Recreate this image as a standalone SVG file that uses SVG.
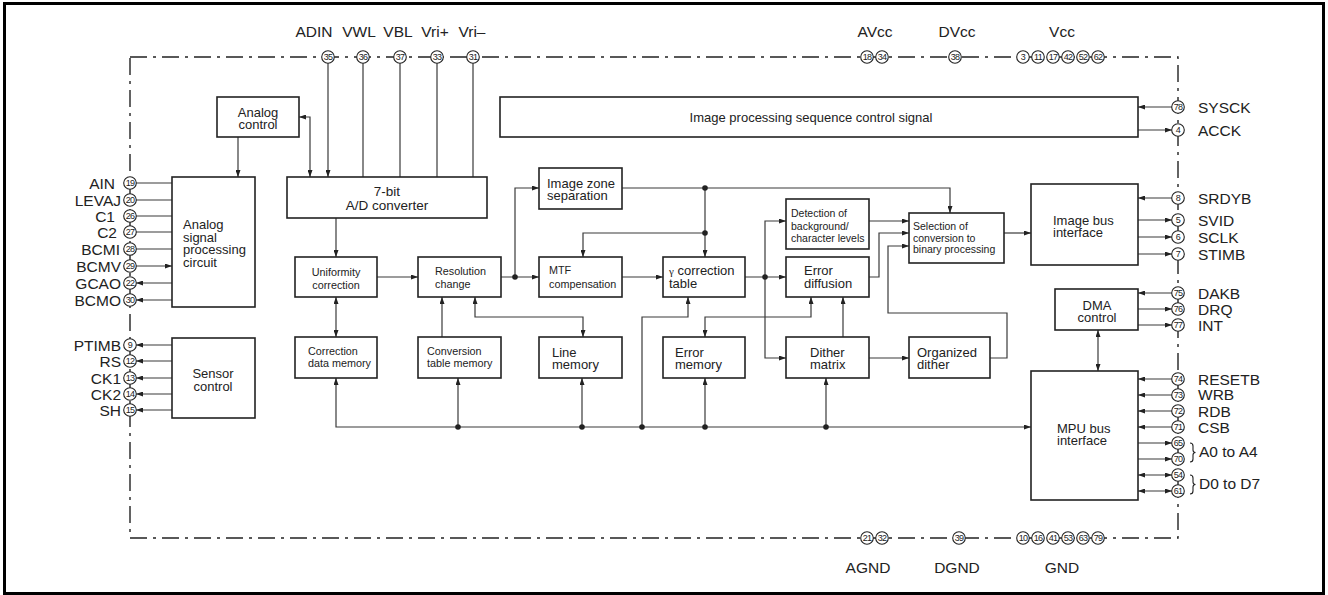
<svg xmlns="http://www.w3.org/2000/svg" width="1328" height="595" viewBox="0 0 1328 595">
<style>
text{font-family:"Liberation Sans",Arial,sans-serif;fill:#222}
.box{fill:#fff;stroke:#222;stroke-width:1.6}
.ln{fill:none;stroke:#3a3a3a;stroke-width:1.2}
.pin{fill:#fff;stroke:#222;stroke-width:1.1}
.pn{font-size:9px;text-anchor:middle;letter-spacing:-0.7px}
.lbl{font-size:15.5px}
.lt{font-size:15.5px;text-anchor:end}
.mid{text-anchor:middle}
.f13{font-size:13px}
.f11{font-size:10.8px}
.dot{fill:#222}
</style>
<defs>
<marker id="ah" viewBox="0 0 7 5" refX="7" refY="2.5" markerWidth="7" markerHeight="5" markerUnits="userSpaceOnUse" orient="auto-start-reverse"><path d="M0,0 L7,2.5 L0,5 z" fill="#222"/></marker>
</defs>
<rect x="4.5" y="3.5" width="1319" height="590" fill="#fff" stroke="#000" stroke-width="3"/>
<rect id="chip" x="130" y="57" width="1048" height="481" fill="none" stroke="#222" stroke-width="1.4" stroke-dasharray="17 6 3 6"/>

<g id="connectors">
<path class="ln" marker-end="url(#ah)" d="M136,183H172M136,200H172M136,216H172M136,232H172M136,249H172M136,266H172"/>
<path class="ln" marker-end="url(#ah)" d="M172,283H136"/>
<path class="ln" marker-end="url(#ah)" d="M172,300H136"/>
<path class="ln" marker-end="url(#ah)" d="M172,345H136"/>
<path class="ln" marker-end="url(#ah)" d="M172,361H136"/>
<path class="ln" marker-end="url(#ah)" d="M172,378H136"/>
<path class="ln" marker-end="url(#ah)" d="M172,394H136"/>
<path class="ln" marker-end="url(#ah)" d="M172,410H136"/>
<path class="ln" marker-end="url(#ah)" d="M328,63V177"/>
<path class="ln" d="M363,63V177M400,63V177M437,63V177M473,63V177"/>
<path class="ln" marker-start="url(#ah)" marker-end="url(#ah)" d="M299,117H310V177"/>
<path class="ln" marker-end="url(#ah)" d="M238,137V177"/>
<path class="ln" marker-end="url(#ah)" d="M1172,107H1138"/>
<path class="ln" marker-end="url(#ah)" d="M1138,130H1172"/>
<path class="ln" marker-end="url(#ah)" d="M1172,198H1138"/>
<path class="ln" marker-end="url(#ah)" d="M1138,220H1172"/>
<path class="ln" marker-end="url(#ah)" d="M1138,237H1172"/>
<path class="ln" marker-end="url(#ah)" d="M1138,254H1172"/>
<path class="ln" marker-end="url(#ah)" d="M1172,293H1138"/>
<path class="ln" marker-end="url(#ah)" d="M1138,309H1172"/>
<path class="ln" marker-end="url(#ah)" d="M1138,325H1172"/>
<path class="ln" marker-start="url(#ah)" marker-end="url(#ah)" d="M1098,330V371"/>
<path class="ln" marker-end="url(#ah)" d="M1172,379H1138"/>
<path class="ln" marker-end="url(#ah)" d="M1172,395H1138"/>
<path class="ln" marker-end="url(#ah)" d="M1172,411H1138"/>
<path class="ln" marker-end="url(#ah)" d="M1172,427H1138"/>
<path class="ln" marker-end="url(#ah)" d="M1138,443H1172"/>
<path class="ln" marker-end="url(#ah)" d="M1138,459H1172"/>
<path class="ln" marker-start="url(#ah)" marker-end="url(#ah)" d="M1138,475H1172"/>
<path class="ln" marker-start="url(#ah)" marker-end="url(#ah)" d="M1138,491H1172"/>
<path class="ln" marker-end="url(#ah)" d="M336,218V257"/>
<path class="ln" marker-end="url(#ah)" d="M377,277H418"/>
<path class="ln" marker-end="url(#ah)" d="M501,277H539"/>
<path class="ln" marker-end="url(#ah)" d="M515,277V188H539"/>
<path class="ln" marker-end="url(#ah)" d="M622,277H663"/>
<path class="ln" marker-end="url(#ah)" d="M622,188H950V213"/>
<path class="ln" marker-end="url(#ah)" d="M705,188V257"/>
<path class="ln" marker-end="url(#ah)" d="M705,233H583V257"/>
<path class="ln" marker-end="url(#ah)" d="M745,277H786"/>
<path class="ln" marker-end="url(#ah)" d="M765,277V221H786"/>
<path class="ln" marker-end="url(#ah)" d="M765,277V358H786"/>
<path class="ln" marker-end="url(#ah)" d="M869,221H909"/>
<path class="ln" marker-end="url(#ah)" d="M869,277H879V233H909"/>
<path class="ln" marker-end="url(#ah)" d="M990,358H1007V313H888V246H909"/>
<path class="ln" marker-end="url(#ah)" d="M869,358H909"/>
<path class="ln" marker-end="url(#ah)" d="M843,337V297"/>
<path class="ln" marker-start="url(#ah)" marker-end="url(#ah)" d="M811,297V317H705V337"/>
<path class="ln" marker-end="url(#ah)" d="M642,427V317H688V297"/>
<path class="ln" marker-start="url(#ah)" marker-end="url(#ah)" d="M475,297V317H583V337"/>
<path class="ln" marker-end="url(#ah)" d="M442,337V297"/>
<path class="ln" marker-start="url(#ah)" marker-end="url(#ah)" d="M336,297V337"/>
<path class="ln" marker-end="url(#ah)" d="M1004,233H1031"/>
<path class="ln" marker-start="url(#ah)" marker-end="url(#ah)" d="M336,378V427H1031"/>
<path class="ln" marker-end="url(#ah)" d="M458,427V378"/>
<path class="ln" marker-end="url(#ah)" d="M582,427V378"/>
<path class="ln" marker-end="url(#ah)" d="M705,427V378"/>
<path class="ln" marker-end="url(#ah)" d="M826,427V378"/>
<circle class="dot" cx="515" cy="277" r="2.8"/>
<circle class="dot" cx="705" cy="188" r="2.8"/>
<circle class="dot" cx="705" cy="233" r="2.8"/>
<circle class="dot" cx="765" cy="277" r="2.8"/>
<circle class="dot" cx="458" cy="427" r="2.8"/>
<circle class="dot" cx="582" cy="427" r="2.8"/>
<circle class="dot" cx="642" cy="427" r="2.8"/>
<circle class="dot" cx="705" cy="427" r="2.8"/>
<circle class="dot" cx="826" cy="427" r="2.8"/>
<path fill="none" stroke="#222" stroke-width="1.1" d="M1190,443q3,0 3,3v4q0,2.5 2.5,2.5q-2.5,0 -2.5,2.5v4q0,3 -3,3M1190,475q3,0 3,3v4q0,2.5 2.5,2.5q-2.5,0 -2.5,2.5v4q0,3 -3,3"/>
</g>

<g id="analog-control"><rect class="box" x="217" y="97" width="82" height="40"/><text class="f13 mid" x="258" y="117">Analog</text><text class="f13 mid" x="258" y="129">control</text></g>
<g id="analog-signal"><rect class="box" x="172" y="177" width="83" height="130"/><text class="f13" x="183" y="229">Analog</text><text class="f13" x="183" y="241.5">signal</text><text class="f13" x="183" y="254">processing</text><text class="f13" x="183" y="266.5">circuit</text></g>
<g id="sensor-control"><rect class="box" x="172" y="338" width="83" height="80"/><text class="f13 mid" x="213" y="378">Sensor</text><text class="f13 mid" x="213" y="391">control</text></g>
<g id="adc"><rect class="box" x="287" y="177" width="200" height="41"/><text class="mid" style="font-size:13.5px" x="387" y="196">7-bit</text><text class="mid" style="font-size:13.5px" x="387" y="210">A/D converter</text></g>
<g id="ipscs"><rect class="box" x="500" y="97" width="638" height="40"/><text class="f13 mid" x="811" y="122">Image processing sequence control signal</text></g>
<g id="uniformity"><rect class="box" x="295" y="257" width="82" height="40"/><text class="f11 mid" x="336" y="276">Uniformity</text><text class="f11 mid" x="336" y="289">correction</text></g>
<g id="resolution"><rect class="box" x="418" y="257" width="83" height="40"/><text class="f11" x="435" y="275">Resolution</text><text class="f11" x="435" y="288">change</text></g>
<g id="izs"><rect class="box" x="539" y="168" width="83" height="41"/><text class="f13" x="547" y="188">Image zone</text><text class="f13" x="547" y="199.5">separation</text></g>
<g id="mtf"><rect class="box" x="539" y="257" width="83" height="40"/><text class="f11" x="549" y="274">MTF</text><text class="f11" x="549" y="288">compensation</text></g>
<g id="cdm"><rect class="box" x="295" y="337" width="82" height="41"/><text class="f11" x="308" y="355">Correction</text><text class="f11" x="308" y="367">data memory</text></g>
<g id="ctm"><rect class="box" x="418" y="337" width="83" height="41"/><text class="f11" x="427" y="355">Conversion</text><text class="f11" x="427" y="367">table memory</text></g>
<g id="line-memory"><rect class="box" x="539" y="337" width="83" height="41"/><text class="f13" x="552" y="356.5">Line</text><text class="f13" x="552" y="369">memory</text></g>
<g id="gamma"><rect class="box" x="663" y="257" width="82" height="40"/><text class="f13" x="669" y="275"><tspan style="font-family:'Liberation Serif',serif;font-size:11px">γ</tspan> correction</text><text class="f13" x="669" y="288">table</text></g>
<g id="error-memory"><rect class="box" x="663" y="337" width="82" height="41"/><text class="f13" x="675" y="356.5">Error</text><text class="f13" x="675" y="369">memory</text></g>
<g id="detection"><rect class="box" x="786" y="199" width="83" height="50"/><text style="font-size:10.5px" x="791" y="217">Detection of</text><text style="font-size:10.5px" x="791" y="229.5">background/</text><text style="font-size:10.5px" x="791" y="242">character levels</text></g>
<g id="error-diffusion"><rect class="box" x="786" y="257" width="83" height="40"/><text class="f13" x="804" y="275">Error</text><text class="f13" x="804" y="288">diffusion</text></g>
<g id="dither-matrix"><rect class="box" x="786" y="337" width="83" height="41"/><text class="f13" x="810" y="356.5">Dither</text><text class="f13" x="810" y="369">matrix</text></g>
<g id="selection"><rect class="box" x="909" y="213" width="95" height="50"/><text style="font-size:10.5px" x="913" y="230">Selection of</text><text style="font-size:10.5px" x="913" y="241.5">conversion to</text><text style="font-size:10.5px" x="913" y="253">binary processing</text></g>
<g id="organized-dither"><rect class="box" x="909" y="337" width="81" height="41"/><text class="f13" x="917" y="356.5">Organized</text><text class="f13" x="917" y="369">dither</text></g>
<g id="image-bus"><rect class="box" x="1031" y="184" width="107" height="81"/><text class="f13" x="1053" y="225">Image bus</text><text class="f13" x="1053" y="237">interface</text></g>
<g id="dma"><rect class="box" x="1055" y="289" width="83" height="41"/><text class="f13 mid" x="1097" y="310">DMA</text><text class="f13 mid" x="1097" y="322">control</text></g>
<g id="mpu-bus"><rect class="box" x="1031" y="371" width="107" height="129"/><text class="f13" x="1057" y="433">MPU bus</text><text class="f13" x="1057" y="445">interface</text></g>

<g id="pins">
<g class="pin">
<circle cx="328" cy="57" r="6.3"/><circle cx="363" cy="57" r="6.3"/><circle cx="400" cy="57" r="6.3"/><circle cx="437" cy="57" r="6.3"/><circle cx="473" cy="57" r="6.3"/>
<circle cx="867" cy="57" r="6.3"/><circle cx="882" cy="57" r="6.3"/><circle cx="955" cy="57" r="6.3"/>
<circle cx="1023" cy="57" r="6.3"/><circle cx="1038" cy="57" r="6.3"/><circle cx="1053" cy="57" r="6.3"/><circle cx="1068" cy="57" r="6.3"/><circle cx="1083" cy="57" r="6.3"/><circle cx="1098" cy="57" r="6.3"/>
<circle cx="867" cy="538" r="6.3"/><circle cx="882" cy="538" r="6.3"/><circle cx="959" cy="538" r="6.3"/>
<circle cx="1023" cy="538" r="6.3"/><circle cx="1038" cy="538" r="6.3"/><circle cx="1053" cy="538" r="6.3"/><circle cx="1068" cy="538" r="6.3"/><circle cx="1083" cy="538" r="6.3"/><circle cx="1098" cy="538" r="6.3"/>
<circle cx="130" cy="183" r="6.3"/><circle cx="130" cy="200" r="6.3"/><circle cx="130" cy="216" r="6.3"/><circle cx="130" cy="232" r="6.3"/><circle cx="130" cy="249" r="6.3"/><circle cx="130" cy="266" r="6.3"/><circle cx="130" cy="283" r="6.3"/><circle cx="130" cy="300" r="6.3"/>
<circle cx="130" cy="345" r="6.3"/><circle cx="130" cy="361" r="6.3"/><circle cx="130" cy="378" r="6.3"/><circle cx="130" cy="394" r="6.3"/><circle cx="130" cy="410" r="6.3"/>
<circle cx="1178" cy="107" r="6.3"/><circle cx="1178" cy="130" r="6.3"/><circle cx="1178" cy="198" r="6.3"/><circle cx="1178" cy="220" r="6.3"/><circle cx="1178" cy="237" r="6.3"/><circle cx="1178" cy="254" r="6.3"/>
<circle cx="1178" cy="293" r="6.3"/><circle cx="1178" cy="309" r="6.3"/><circle cx="1178" cy="325" r="6.3"/>
<circle cx="1178" cy="379" r="6.3"/><circle cx="1178" cy="395" r="6.3"/><circle cx="1178" cy="411" r="6.3"/><circle cx="1178" cy="427" r="6.3"/><circle cx="1178" cy="443" r="6.3"/><circle cx="1178" cy="459" r="6.3"/><circle cx="1178" cy="475" r="6.3"/><circle cx="1178" cy="491" r="6.3"/>
</g>
<g>
<text class="pn" x="328" y="60.2">35</text><text class="pn" x="363" y="60.2">36</text><text class="pn" x="400" y="60.2">37</text><text class="pn" x="437" y="60.2">33</text><text class="pn" x="473" y="60.2">31</text>
<text class="pn" x="867" y="60.2">18</text><text class="pn" x="882" y="60.2">34</text><text class="pn" x="955" y="60.2">38</text>
<text class="pn" x="1023" y="60.2">3</text><text class="pn" x="1038" y="60.2">11</text><text class="pn" x="1053" y="60.2">17</text><text class="pn" x="1068" y="60.2">42</text><text class="pn" x="1083" y="60.2">52</text><text class="pn" x="1098" y="60.2">62</text>
<text class="pn" x="867" y="541.2">21</text><text class="pn" x="882" y="541.2">32</text><text class="pn" x="959" y="541.2">39</text>
<text class="pn" x="1023" y="541.2">10</text><text class="pn" x="1038" y="541.2">16</text><text class="pn" x="1053" y="541.2">41</text><text class="pn" x="1068" y="541.2">53</text><text class="pn" x="1083" y="541.2">63</text><text class="pn" x="1098" y="541.2">79</text>
<text class="pn" x="130" y="186.2">19</text><text class="pn" x="130" y="203.2">20</text><text class="pn" x="130" y="219.2">26</text><text class="pn" x="130" y="235.2">27</text><text class="pn" x="130" y="252.2">28</text><text class="pn" x="130" y="269.2">29</text><text class="pn" x="130" y="286.2">22</text><text class="pn" x="130" y="303.2">30</text>
<text class="pn" x="130" y="348.2">9</text><text class="pn" x="130" y="364.2">12</text><text class="pn" x="130" y="381.2">13</text><text class="pn" x="130" y="397.2">14</text><text class="pn" x="130" y="413.2">15</text>
<text class="pn" x="1178" y="110.2">78</text><text class="pn" x="1178" y="133.2">4</text><text class="pn" x="1178" y="201.2">8</text><text class="pn" x="1178" y="223.2">5</text><text class="pn" x="1178" y="240.2">6</text><text class="pn" x="1178" y="257.2">7</text>
<text class="pn" x="1178" y="296.2">75</text><text class="pn" x="1178" y="312.2">76</text><text class="pn" x="1178" y="328.2">77</text>
<text class="pn" x="1178" y="382.2">74</text><text class="pn" x="1178" y="398.2">73</text><text class="pn" x="1178" y="414.2">72</text><text class="pn" x="1178" y="430.2">71</text><text class="pn" x="1178" y="446.2">65</text><text class="pn" x="1178" y="462.2">70</text><text class="pn" x="1178" y="478.2">54</text><text class="pn" x="1178" y="494.2">61</text>
</g>
</g>

<g id="pin-labels">
<text class="lbl mid" x="314" y="37">ADIN</text><text class="lbl mid" x="359" y="37">VWL</text><text class="lbl mid" x="398" y="37">VBL</text><text class="lbl mid" x="435" y="37">Vri+</text><text class="lbl mid" x="472" y="37">Vri–</text>
<text class="lbl mid" x="875" y="37">AVcc</text><text class="lbl mid" x="957" y="37">DVcc</text><text class="lbl mid" x="1062" y="37">Vcc</text>
<text class="lbl mid" x="868" y="573">AGND</text><text class="lbl mid" x="957" y="573">DGND</text><text class="lbl mid" x="1062" y="573">GND</text>
<text class="lt" x="115" y="188.5">AIN</text><text class="lt" x="121" y="205.5">LEVAJ</text><text class="lt" x="115" y="221.5">C1</text><text class="lt" x="117" y="237.5">C2</text><text class="lt" x="120" y="254.5">BCMI</text><text class="lt" x="121" y="271.5">BCMV</text><text class="lt" x="121" y="288.5">GCAO</text><text class="lt" x="121" y="305.5">BCMO</text>
<text class="lt" x="121" y="350.5">PTIMB</text><text class="lt" x="121" y="366.5">RS</text><text class="lt" x="121" y="383.5">CK1</text><text class="lt" x="121" y="399.5">CK2</text><text class="lt" x="121" y="415.5">SH</text>
<text class="lbl" x="1198" y="113">SYSCK</text><text class="lbl" x="1198" y="136">ACCK</text><text class="lbl" x="1198" y="204">SRDYB</text><text class="lbl" x="1198" y="226">SVID</text><text class="lbl" x="1198" y="243">SCLK</text><text class="lbl" x="1198" y="260">STIMB</text>
<text class="lbl" x="1198" y="299">DAKB</text><text class="lbl" x="1198" y="315">DRQ</text><text class="lbl" x="1198" y="331">INT</text>
<text class="lbl" x="1198" y="385">RESETB</text><text class="lbl" x="1198" y="400">WRB</text><text class="lbl" x="1198" y="417">RDB</text><text class="lbl" x="1198" y="433">CSB</text>
<text class="lbl" x="1199" y="457">A0 to A4</text><text class="lbl" x="1199" y="489">D0 to D7</text>
</g>
</svg>
